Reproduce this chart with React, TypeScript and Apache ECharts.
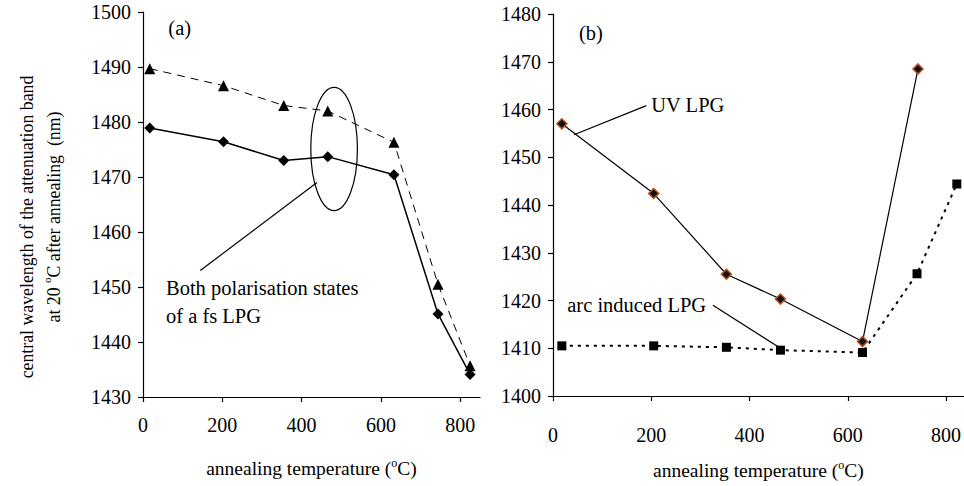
import React, { useEffect, useRef } from 'react';
import * as echarts from 'echarts';

const FONT = '"Liberation Serif", "Times New Roman", serif';

// Panel (a): femtosecond LPG, both polarisation states
const tempsFs = [17, 203, 355, 466, 633, 744, 825];
const fsPolA = [1489.7, 1486.6, 1483.0, 1482.0, 1476.3, 1450.5, 1435.7];
const fsPolB = [1478.9, 1476.4, 1473.0, 1473.7, 1470.4, 1445.1, 1434.1];

// Panel (b)
const tempsUv = [18, 205, 353, 463, 630, 743];
const uvLpg = [1457.0, 1442.4, 1425.5, 1420.3, 1411.4, 1468.5];
const tempsArc = [18, 205, 353, 463, 630, 741, 822];
const arcLpg = [1410.5, 1410.5, 1410.2, 1409.6, 1409.1, 1425.6, 1444.4];

const xTicks = [0, 200, 400, 600, 800];

const yTitle1 = 'central wavelength of the attenuation band';
const yTitle2 = 'at 20 {sup|o}C after annealing  (nm)';

// annotation anchors (data coordinates)
const leaderA = [[144.5, 1453.0], [438.8, 1469.0]];
const ellipseA = { cx: 482, cy: 1475.1, rx: 58.8, ry: 11.2 };
const leaderUv = [[190, 1460.8], [42.7, 1454.7]];
const leaderArc = [[325.5, 1419.0], [459.2, 1410.25]];
const labelAPos = [64, 1497.1];
const textFsPos = [58, 1452.3];
const labelBPos = [53, 1476.1];
const textUvPos = [200, 1460.9];
const textArcPos = [29, 1419.0];

const zip = (xs: number[], ys: number[]) => xs.map((x, i) => [x, ys[i]]);

const axisLine = { show: true, lineStyle: { color: '#000', width: 1.2 } };
const axisTick = { show: true, length: 5, lineStyle: { color: '#000', width: 1.2 } };
const supStyle = { fontSize: 12, fontFamily: FONT, color: '#000', verticalAlign: 'top' as const, lineHeight: 22 };

function makeX(gridIndex: number, max: number, labelMargin: number, nameGap: number) {
  return {
    type: 'value',
    gridIndex,
    min: 0,
    max,
    interval: 200,
    axisLine,
    axisTick: { ...axisTick, customValues: xTicks },
    splitLine: { show: false },
    axisLabel: {
      customValues: xTicks,
      margin: labelMargin,
      fontFamily: FONT,
      fontSize: 20,
      color: '#000',
      formatter: (v: number) => String(v),
    },
    name: 'annealing temperature ({sup|o}C)',
    nameLocation: 'middle',
    nameGap,
    nameTextStyle: { fontFamily: FONT, fontSize: 19.5, color: '#000', lineHeight: 22, rich: { sup: supStyle } },
  };
}

function makeY(gridIndex: number, min: number, max: number) {
  return {
    type: 'value',
    gridIndex,
    min,
    max,
    interval: 10,
    axisLine,
    axisTick,
    splitLine: { show: false },
    axisLabel: { margin: 12, fontFamily: FONT, fontSize: 20, color: '#000', formatter: (v: number) => String(v) },
  };
}

const leaderSeries = (xi: number, pts: number[][]) => ({
  type: 'line',
  xAxisIndex: xi,
  yAxisIndex: xi,
  data: pts,
  symbol: 'none',
  silent: true,
  lineStyle: { color: '#000', width: 1.2 },
  z: 1,
});

export default function App() {
  const ref = useRef<HTMLDivElement>(null);
  useEffect(() => {
    if (!ref.current) return;
    const chart = echarts.init(ref.current, null, { renderer: 'svg' });
    const option: any = {
      animation: false,
      backgroundColor: '#fff',
      grid: [
        { left: 143, top: 12, width: 337, height: 385 },
        { left: 553, top: 14, width: 411, height: 388 },
      ],
      xAxis: [makeX(0, 850, 18, 60), makeX(1, 836, 29, 63)],
      yAxis: [makeY(0, 1430, 1500), makeY(1, 1400, 1480)],
      series: [
        {
          type: 'line',
          xAxisIndex: 0,
          yAxisIndex: 0,
          data: zip(tempsFs, fsPolA),
          symbol: 'triangle',
          symbolSize: 11,
          itemStyle: { color: '#000' },
          lineStyle: { color: '#000', width: 1, type: [8, 6] },
          z: 3,
        },
        {
          type: 'line',
          xAxisIndex: 0,
          yAxisIndex: 0,
          data: zip(tempsFs, fsPolB),
          symbol: 'diamond',
          symbolSize: 11,
          itemStyle: { color: '#000' },
          lineStyle: { color: '#000', width: 1.5 },
          z: 3,
        },
        {
          type: 'line',
          xAxisIndex: 1,
          yAxisIndex: 1,
          data: zip(tempsUv, uvLpg),
          symbol: 'diamond',
          symbolSize: 10,
          itemStyle: { color: '#111', borderColor: '#b4501e', borderWidth: 1.5 },
          lineStyle: { color: '#000', width: 1.2 },
          z: 3,
        },
        {
          type: 'line',
          xAxisIndex: 1,
          yAxisIndex: 1,
          data: zip(tempsArc, arcLpg),
          symbol: 'rect',
          symbolSize: 9,
          itemStyle: { color: '#000' },
          lineStyle: { color: '#000', width: 2, type: [3, 5] },
          z: 3,
        },
        leaderSeries(0, leaderA),
        leaderSeries(1, leaderUv),
        leaderSeries(1, leaderArc),
      ],
    };
    chart.setOption(option);

    const px = (g: number, p: number[]) => chart.convertToPixel({ gridIndex: g } as any, p) as number[];
    const c = px(0, [ellipseA.cx, ellipseA.cy]);
    const e1 = px(0, [ellipseA.cx + ellipseA.rx, ellipseA.cy + ellipseA.ry]);
    const txt = (g: number, p: number[], text: string, vAlign: string = 'middle') => {
      const q = px(g, p);
      return {
        type: 'text',
        x: q[0],
        y: q[1],
        z: 10,
        style: {
          text,
          fontFamily: FONT,
          fontSize: 20.5,
          fill: '#000',
          align: 'left',
          verticalAlign: vAlign,
          lineHeight: 28,
        },
      };
    };
    const yName = (x: number, y: number, text: string) => ({
      type: 'text',
      x,
      y,
      rotation: Math.PI / 2,
      z: 10,
      style: {
        text,
        fontFamily: FONT,
        fontSize: 17.8,
        fill: '#000',
        align: 'center',
        verticalAlign: 'middle',
        lineHeight: 24,
        rich: { sup: { fontSize: 11, fontFamily: FONT, fill: '#000', verticalAlign: 'top', lineHeight: 18 } },
      },
    });
    chart.setOption({
      graphic: [
        {
          type: 'ellipse',
          z: 10,
          shape: { cx: c[0], cy: c[1], rx: Math.abs(e1[0] - c[0]), ry: Math.abs(e1[1] - c[1]) },
          style: { fill: 'none', stroke: '#000', lineWidth: 1.2 },
        },
        txt(0, labelAPos, '(a)'),
        txt(0, textFsPos, 'Both polarisation states\nof a fs LPG', 'top'),
        txt(1, labelBPos, '(b)'),
        txt(1, textUvPos, 'UV LPG'),
        txt(1, textArcPos, 'arc induced LPG'),
        yName(27, 227, yTitle1),
        yName(53.5, 217, yTitle2),
      ],
    });
    return () => chart.dispose();
  }, []);
  return <div ref={ref} style={{ position: 'fixed', left: 0, top: 0, width: 964, height: 486, background: '#fff' }} />;
}
